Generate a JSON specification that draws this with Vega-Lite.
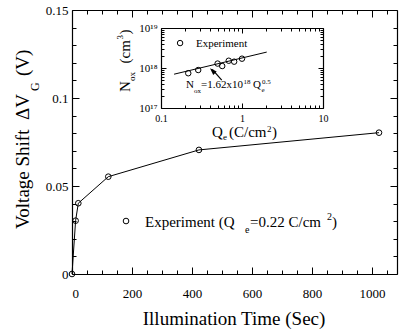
{
  "$schema": "https://vega.github.io/schema/vega-lite/v6.json",
  "width": 325,
  "height": 264,
  "autosize": "none",
  "padding": {"left": 72, "top": 10, "right": 4, "bottom": 61},
  "background": "white",
  "config": {
    "view": {"stroke": null},
    "axis": {
      "grid": false,
      "domainColor": "black",
      "tickColor": "black",
      "labelColor": "black",
      "titleColor": "black",
      "labelFont": "Liberation Serif",
      "titleFont": "Liberation Serif",
      "titleFontWeight": "normal",
      "domainWidth": 1.2,
      "tickWidth": 1
    }
  },
  "datasets": {
    "main": [
      {"t": 0, "dv": 0},
      {"t": 12, "dv": 0.0303},
      {"t": 21, "dv": 0.0402},
      {"t": 121, "dv": 0.0553},
      {"t": 423, "dv": 0.0705},
      {"t": 1023, "dv": 0.0803}
    ],
    "inset": [
      {"q": 0.217, "n": 7.4e17},
      {"q": 0.288, "n": 8.9e17},
      {"q": 0.5, "n": 1.29e18},
      {"q": 0.57, "n": 1.12e18},
      {"q": 0.686, "n": 1.52e18},
      {"q": 0.8, "n": 1.44e18},
      {"q": 1.0, "n": 1.71e18}
    ],
    "fit": [
      {"q": 0.145, "n": 7.0e17},
      {"q": 2.02, "n": 2.5e18}
    ]
  },
  "layer": [
    {
      "layer": [
        {
          "data": {"name": "main"},
          "mark": {"type": "line", "color": "black", "strokeWidth": 1},
          "encoding": {
            "x": {
              "field": "t", "type": "quantitative",
              "scale": {"domain": [0, 1083], "nice": false, "zero": false},
              "axis": {
                "orient": "bottom",
                "values": [0,50,100,150,200,250,300,350,400,450,500,550,600,650,700,750,800,850,900,950,1000,1050],
                "format": "d",
                "labelExpr": "datum.value % 200 == 0 ? datum.label : ''",
                "tickSize": {"condition": {"test": "datum.value % 200 == 0", "value": -7}, "value": -4},
                "labelFont": "Liberation Serif",
                "labelFontSize": 13,
                "labelColor": "black",
                "labelPadding": 20,
                "title": null
              }
            },
            "y": {
              "field": "dv", "type": "quantitative",
              "scale": {"domain": [0, 0.15], "nice": false},
              "axis": {
                "orient": "left",
                "values": [0,0.01,0.02,0.03,0.04,0.05,0.06,0.07,0.08,0.09,0.1,0.11,0.12,0.13,0.14,0.15],
                "labelExpr": "round(datum.value*100) % 5 == 0 ? format(datum.value, '~g') : ''",
                "tickSize": {"condition": {"test": "round(datum.value*100) % 5 == 0", "value": -7}, "value": -4},
                "labelFont": "Liberation Serif",
                "labelFontSize": 13,
                "labelColor": "black",
                "labelPadding": 11,
                "title": null
              }
            }
          }
        },
        {
          "data": {"name": "main"},
          "mark": {"type": "point", "shape": "circle", "filled": false, "color": "black", "size": 32, "strokeWidth": 1, "opacity": 1},
          "encoding": {
            "x": {
              "field": "t", "type": "quantitative",
              "axis": {
                "orient": "top",
                "values": [0,50,100,150,200,250,300,350,400,450,500,550,600,650,700,750,800,850,900,950,1000,1050],
                "labels": false,
                "tickSize": {"condition": {"test": "datum.value % 200 == 0", "value": -7}, "value": -4},
                "title": null
              }
            },
            "y": {
              "field": "dv", "type": "quantitative",
              "axis": {
                "orient": "right",
                "values": [0,0.01,0.02,0.03,0.04,0.05,0.06,0.07,0.08,0.09,0.1,0.11,0.12,0.13,0.14,0.15],
                "labels": false,
                "tickSize": {"condition": {"test": "round(datum.value*100) % 5 == 0", "value": -7}, "value": -4},
                "title": null
              }
            }
          }
        },
        {
          "data": {"values": [{"label": "Experiment"}]},
          "mark": {"type": "point", "shape": "circle", "filled": false, "color": "black", "size": 32, "strokeWidth": 1, "opacity": 1},
          "encoding": {
            "x": {"datum": 180, "type": "quantitative", "axis": null},
            "y": {"datum": 0.0301, "type": "quantitative", "axis": null}
          }
        },
        {
          "data": {"values": [{"label": "Experiment (Q"}]},
          "mark": {"type": "text", "font": "Liberation Serif", "fontSize": 15, "align": "left", "baseline": "alphabetic", "color": "black"},
          "encoding": {
            "x": {"datum": 243.3, "type": "quantitative", "axis": null},
            "y": {"datum": 0.0267, "type": "quantitative", "axis": null},
            "text": {"field": "label"}
          }
        },
        {
          "data": {"values": [{"label": "e"}]},
          "mark": {"type": "text", "font": "Liberation Serif", "fontSize": 10, "align": "left", "baseline": "alphabetic", "color": "black"},
          "encoding": {
            "x": {"datum": 576.7, "type": "quantitative", "axis": null},
            "y": {"datum": 0.0233, "type": "quantitative", "axis": null},
            "text": {"field": "label"}
          }
        },
        {
          "data": {"values": [{"label": "=0.22 C/cm"}]},
          "mark": {"type": "text", "font": "Liberation Serif", "fontSize": 15, "align": "left", "baseline": "alphabetic", "color": "black"},
          "encoding": {
            "x": {"datum": 593.3, "type": "quantitative", "axis": null},
            "y": {"datum": 0.0267, "type": "quantitative", "axis": null},
            "text": {"field": "label"}
          }
        },
        {
          "data": {"values": [{"label": "2"}]},
          "mark": {"type": "text", "font": "Liberation Serif", "fontSize": 10, "align": "left", "baseline": "alphabetic", "color": "black"},
          "encoding": {
            "x": {"datum": 850, "type": "quantitative", "axis": null},
            "y": {"datum": 0.0307, "type": "quantitative", "axis": null},
            "text": {"field": "label"}
          }
        },
        {
          "data": {"values": [{"label": ")"}]},
          "mark": {"type": "text", "font": "Liberation Serif", "fontSize": 15, "align": "left", "baseline": "alphabetic", "color": "black"},
          "encoding": {
            "x": {"datum": 866.7, "type": "quantitative", "axis": null},
            "y": {"datum": 0.0267, "type": "quantitative", "axis": null},
            "text": {"field": "label"}
          }
        },
        {
          "data": {"values": [{"label": "Illumination Time (Sec)"}]},
          "mark": {"type": "text", "font": "Liberation Serif", "fontSize": 19, "fontWeight": "normal", "align": "center", "baseline": "alphabetic", "color": "black"},
          "encoding": {
            "x": {"datum": 540, "type": "quantitative", "axis": null},
            "y": {"datum": -0.0287, "type": "quantitative", "axis": null},
            "text": {"field": "label"}
          }
        },
        {
          "data": {"values": [{"label": "Voltage Shift \u00a0\u0394V"}]},
          "mark": {"type": "text", "font": "Liberation Serif", "fontSize": 19, "align": "left", "baseline": "alphabetic", "angle": 270, "color": "black"},
          "encoding": {
            "x": {"datum": -143.3, "type": "quantitative", "axis": null},
            "y": {"datum": 0.0256, "type": "quantitative", "axis": null},
            "text": {"field": "label"}
          }
        },
        {
          "data": {"values": [{"label": "G"}]},
          "mark": {"type": "text", "font": "Liberation Serif", "fontSize": 12, "align": "left", "baseline": "alphabetic", "angle": 270, "color": "black"},
          "encoding": {
            "x": {"datum": -110, "type": "quantitative", "axis": null},
            "y": {"datum": 0.104, "type": "quantitative", "axis": null},
            "text": {"field": "label"}
          }
        },
        {
          "data": {"values": [{"label": "(V)"}]},
          "mark": {"type": "text", "font": "Liberation Serif", "fontSize": 19, "align": "left", "baseline": "alphabetic", "angle": 270, "color": "black"},
          "encoding": {
            "x": {"datum": -143.3, "type": "quantitative", "axis": null},
            "y": {"datum": 0.1125, "type": "quantitative", "axis": null},
            "text": {"field": "label"}
          }
        }
      ],
      "resolve": {"axis": {"x": "independent", "y": "independent"}}
    },
    {
      "layer": [
        {
          "data": {"name": "inset"},
          "mark": {"type": "point", "shape": "circle", "filled": false, "color": "black", "size": 30, "strokeWidth": 1, "opacity": 1},
          "encoding": {
            "x": {
              "field": "q", "type": "quantitative",
              "scale": {"type": "log", "domain": [0.1, 10], "range": [89, 251], "nice": false},
              "axis": {
                "orient": "bottom",
                "offset": -166,
                "values": [0.1,0.2,0.3,0.4,0.5,0.6,0.7,0.8,0.9,1,2,3,4,5,6,7,8,9,10],
                "labelExpr": "datum.value == 0.1 ? '0.1' : datum.value == 1 ? '1' : datum.value == 10 ? '10' : ''",
                "tickSize": {"condition": {"test": "datum.value == 0.1 || datum.value == 1 || datum.value == 10", "value": -5}, "value": -3},
                "labelFont": "Liberation Serif",
                "labelFontSize": 10,
                "labelColor": "black",
                "labelPadding": 10,
                "labelFlush": false,
                "labelOverlap": false,
                "title": null
              }
            },
            "y": {
              "field": "n", "type": "quantitative",
              "scale": {"type": "log", "domain": [1e17, 1e19], "range": [98, 18], "nice": false},
              "axis": {
                "orient": "left",
                "offset": -89,
                "values": [1e17,2e17,3e17,4e17,5e17,6e17,7e17,8e17,9e17,1e18,2e18,3e18,4e18,5e18,6e18,7e18,8e18,9e18,1e19],
                "labelExpr": "datum.value == 1e17 ? '10\u00b9\u2077' : datum.value == 1e18 ? '10\u00b9\u2078' : datum.value == 1e19 ? '10\u00b9\u2079' : ''",
                "tickSize": {"condition": {"test": "datum.value == 1e17 || datum.value == 1e18 || datum.value == 1e19", "value": -5}, "value": -3},
                "labelFont": "Liberation Serif",
                "labelFontSize": 11,
                "labelColor": "black",
                "labelPadding": 9,
                "labelFlush": false,
                "labelOverlap": false,
                "title": null
              }
            }
          }
        },
        {
          "data": {"name": "fit"},
          "mark": {"type": "line", "color": "black", "strokeWidth": 1},
          "encoding": {
            "x": {
              "field": "q", "type": "quantitative",
              "axis": {
                "orient": "top",
                "offset": -18,
                "values": [0.1,0.2,0.3,0.4,0.5,0.6,0.7,0.8,0.9,1,2,3,4,5,6,7,8,9,10],
                "labels": false,
                "tickSize": {"condition": {"test": "datum.value == 0.1 || datum.value == 1 || datum.value == 10", "value": -5}, "value": -3},
                "title": null
              }
            },
            "y": {
              "field": "n", "type": "quantitative",
              "axis": {
                "orient": "right",
                "offset": -74,
                "values": [1e17,2e17,3e17,4e17,5e17,6e17,7e17,8e17,9e17,1e18,2e18,3e18,4e18,5e18,6e18,7e18,8e18,9e18,1e19],
                "labels": false,
                "tickSize": {"condition": {"test": "datum.value == 1e17 || datum.value == 1e18 || datum.value == 1e19", "value": -5}, "value": -3},
                "title": null
              }
            }
          }
        },
        {
          "data": {"values": [{"label": "Experiment"}]},
          "mark": {"type": "point", "shape": "circle", "filled": false, "color": "black", "size": 30, "strokeWidth": 1, "opacity": 1},
          "encoding": {
            "x": {"datum": 0.172, "type": "quantitative", "axis": null},
            "y": {"datum": 4.2e18, "type": "quantitative", "axis": null}
          }
        },
        {
          "data": {"values": [{"label": "Experiment"}]},
          "mark": {"type": "text", "font": "Liberation Serif", "fontSize": 11, "align": "left", "baseline": "alphabetic", "color": "black"},
          "encoding": {
            "x": {"datum": 0.27, "type": "quantitative", "axis": null},
            "y": {"datum": 3.3e18, "type": "quantitative", "axis": null},
            "text": {"field": "label"}
          }
        },
        {
          "data": {"values": [{"label": "arrow"}]},
          "mark": {"type": "rule", "color": "black", "strokeWidth": 1.2},
          "encoding": {
            "x": {"datum": 0.562, "type": "quantitative", "axis": null},
            "y": {"datum": 5.0e17, "type": "quantitative", "axis": null},
            "x2": {"datum": 0.43},
            "y2": {"datum": 9.2e17}
          }
        },
        {
          "data": {"values": [{"label": "arrow"}]},
          "mark": {"type": "point", "shape": "M0,0L0.7,2L-0.7,2Z", "filled": true, "color": "black", "size": 49, "angle": 315, "opacity": 1},
          "encoding": {
            "x": {"datum": 0.403, "type": "quantitative", "axis": null},
            "y": {"datum": 9.8e17, "type": "quantitative", "axis": null}
          }
        },
        {
          "data": {"values": [{"label": "N"}]},
          "mark": {"type": "text", "font": "Liberation Serif", "fontSize": 11, "align": "left", "baseline": "alphabetic", "color": "black"},
          "encoding": {
            "x": {"datum": 0.2036, "type": "quantitative", "axis": null},
            "y": {"datum": 3.11e17, "type": "quantitative", "axis": null},
            "text": {"field": "label"}
          }
        },
        {
          "data": {"values": [{"label": "ox"}]},
          "mark": {"type": "text", "font": "Liberation Serif", "fontSize": 7, "align": "left", "baseline": "alphabetic", "color": "black"},
          "encoding": {
            "x": {"datum": 0.255, "type": "quantitative", "axis": null},
            "y": {"datum": 2.37e17, "type": "quantitative", "axis": null},
            "text": {"field": "label"}
          }
        },
        {
          "data": {"values": [{"label": "=1.62x10"}]},
          "mark": {"type": "text", "font": "Liberation Serif", "fontSize": 11, "align": "left", "baseline": "alphabetic", "color": "black"},
          "encoding": {
            "x": {"datum": 0.312, "type": "quantitative", "axis": null},
            "y": {"datum": 3.11e17, "type": "quantitative", "axis": null},
            "text": {"field": "label"}
          }
        },
        {
          "data": {"values": [{"label": "18"}]},
          "mark": {"type": "text", "font": "Liberation Serif", "fontSize": 7, "align": "left", "baseline": "alphabetic", "color": "black"},
          "encoding": {
            "x": {"datum": 1.043, "type": "quantitative", "axis": null},
            "y": {"datum": 3.98e17, "type": "quantitative", "axis": null},
            "text": {"field": "label"}
          }
        },
        {
          "data": {"values": [{"label": "Q"}]},
          "mark": {"type": "text", "font": "Liberation Serif", "fontSize": 11, "align": "left", "baseline": "alphabetic", "color": "black"},
          "encoding": {
            "x": {"datum": 1.368, "type": "quantitative", "axis": null},
            "y": {"datum": 3.11e17, "type": "quantitative", "axis": null},
            "text": {"field": "label"}
          }
        },
        {
          "data": {"values": [{"label": "e"}]},
          "mark": {"type": "text", "font": "Liberation Serif", "fontSize": 7, "align": "left", "baseline": "alphabetic", "color": "black"},
          "encoding": {
            "x": {"datum": 1.742, "type": "quantitative", "axis": null},
            "y": {"datum": 2.51e17, "type": "quantitative", "axis": null},
            "text": {"field": "label"}
          }
        },
        {
          "data": {"values": [{"label": "0.5"}]},
          "mark": {"type": "text", "font": "Liberation Serif", "fontSize": 7, "align": "left", "baseline": "alphabetic", "color": "black"},
          "encoding": {
            "x": {"datum": 1.766, "type": "quantitative", "axis": null},
            "y": {"datum": 3.98e17, "type": "quantitative", "axis": null},
            "text": {"field": "label"}
          }
        },
        {
          "data": {"values": [{"label": "Q"}]},
          "mark": {"type": "text", "font": "Liberation Serif", "fontSize": 15, "align": "left", "baseline": "alphabetic", "color": "black"},
          "encoding": {
            "x": {"datum": 0.4266, "type": "quantitative", "axis": null},
            "y": {"datum": 1.884e16, "type": "quantitative", "axis": null},
            "text": {"field": "label"}
          }
        },
        {
          "data": {"values": [{"label": "e"}]},
          "mark": {"type": "text", "font": "Liberation Serif", "fontSize": 9, "align": "left", "baseline": "alphabetic", "color": "black"},
          "encoding": {
            "x": {"datum": 0.5826, "type": "quantitative", "axis": null},
            "y": {"datum": 1.54e16, "type": "quantitative", "axis": null},
            "text": {"field": "label"}
          }
        },
        {
          "data": {"values": [{"label": "(C/cm"}]},
          "mark": {"type": "text", "font": "Liberation Serif", "fontSize": 15, "align": "left", "baseline": "alphabetic", "color": "black"},
          "encoding": {
            "x": {"datum": 0.692, "type": "quantitative", "axis": null},
            "y": {"datum": 1.884e16, "type": "quantitative", "axis": null},
            "text": {"field": "label"}
          }
        },
        {
          "data": {"values": [{"label": "2"}]},
          "mark": {"type": "text", "font": "Liberation Serif", "fontSize": 9, "align": "left", "baseline": "alphabetic", "color": "black"},
          "encoding": {
            "x": {"datum": 2.035, "type": "quantitative", "axis": null},
            "y": {"datum": 2.585e16, "type": "quantitative", "axis": null},
            "text": {"field": "label"}
          }
        },
        {
          "data": {"values": [{"label": ")"}]},
          "mark": {"type": "text", "font": "Liberation Serif", "fontSize": 15, "align": "left", "baseline": "alphabetic", "color": "black"},
          "encoding": {
            "x": {"datum": 2.344, "type": "quantitative", "axis": null},
            "y": {"datum": 1.884e16, "type": "quantitative", "axis": null},
            "text": {"field": "label"}
          }
        },
        {
          "data": {"values": [{"label": "N"}]},
          "mark": {"type": "text", "font": "Liberation Serif", "fontSize": 15, "align": "left", "baseline": "alphabetic", "angle": 270, "color": "black"},
          "encoding": {
            "x": {"datum": 0.0414, "type": "quantitative", "axis": null},
            "y": {"datum": 2.51e17, "type": "quantitative", "axis": null},
            "text": {"field": "label"}
          }
        },
        {
          "data": {"values": [{"label": "ox"}]},
          "mark": {"type": "text", "font": "Liberation Serif", "fontSize": 9, "align": "left", "baseline": "alphabetic", "angle": 270, "color": "black"},
          "encoding": {
            "x": {"datum": 0.0477, "type": "quantitative", "axis": null},
            "y": {"datum": 4.73e17, "type": "quantitative", "axis": null},
            "text": {"field": "label"}
          }
        },
        {
          "data": {"values": [{"label": "(cm"}]},
          "mark": {"type": "text", "font": "Liberation Serif", "fontSize": 15, "align": "left", "baseline": "alphabetic", "angle": 270, "color": "black"},
          "encoding": {
            "x": {"datum": 0.0414, "type": "quantitative", "axis": null},
            "y": {"datum": 1.296e18, "type": "quantitative", "axis": null},
            "text": {"field": "label"}
          }
        },
        {
          "data": {"values": [{"label": "3"}]},
          "mark": {"type": "text", "font": "Liberation Serif", "fontSize": 9, "align": "left", "baseline": "alphabetic", "angle": 270, "color": "black"},
          "encoding": {
            "x": {"datum": 0.034, "type": "quantitative", "axis": null},
            "y": {"datum": 5.157e18, "type": "quantitative", "axis": null},
            "text": {"field": "label"}
          }
        },
        {
          "data": {"values": [{"label": ")"}]},
          "mark": {"type": "text", "font": "Liberation Serif", "fontSize": 15, "align": "left", "baseline": "alphabetic", "angle": 270, "color": "black"},
          "encoding": {
            "x": {"datum": 0.0414, "type": "quantitative", "axis": null},
            "y": {"datum": 6.88e18, "type": "quantitative", "axis": null},
            "text": {"field": "label"}
          }
        }
      ],
      "resolve": {"axis": {"x": "independent", "y": "independent"}}
    }
  ],
  "resolve": {"scale": {"x": "independent", "y": "independent"}}
}
